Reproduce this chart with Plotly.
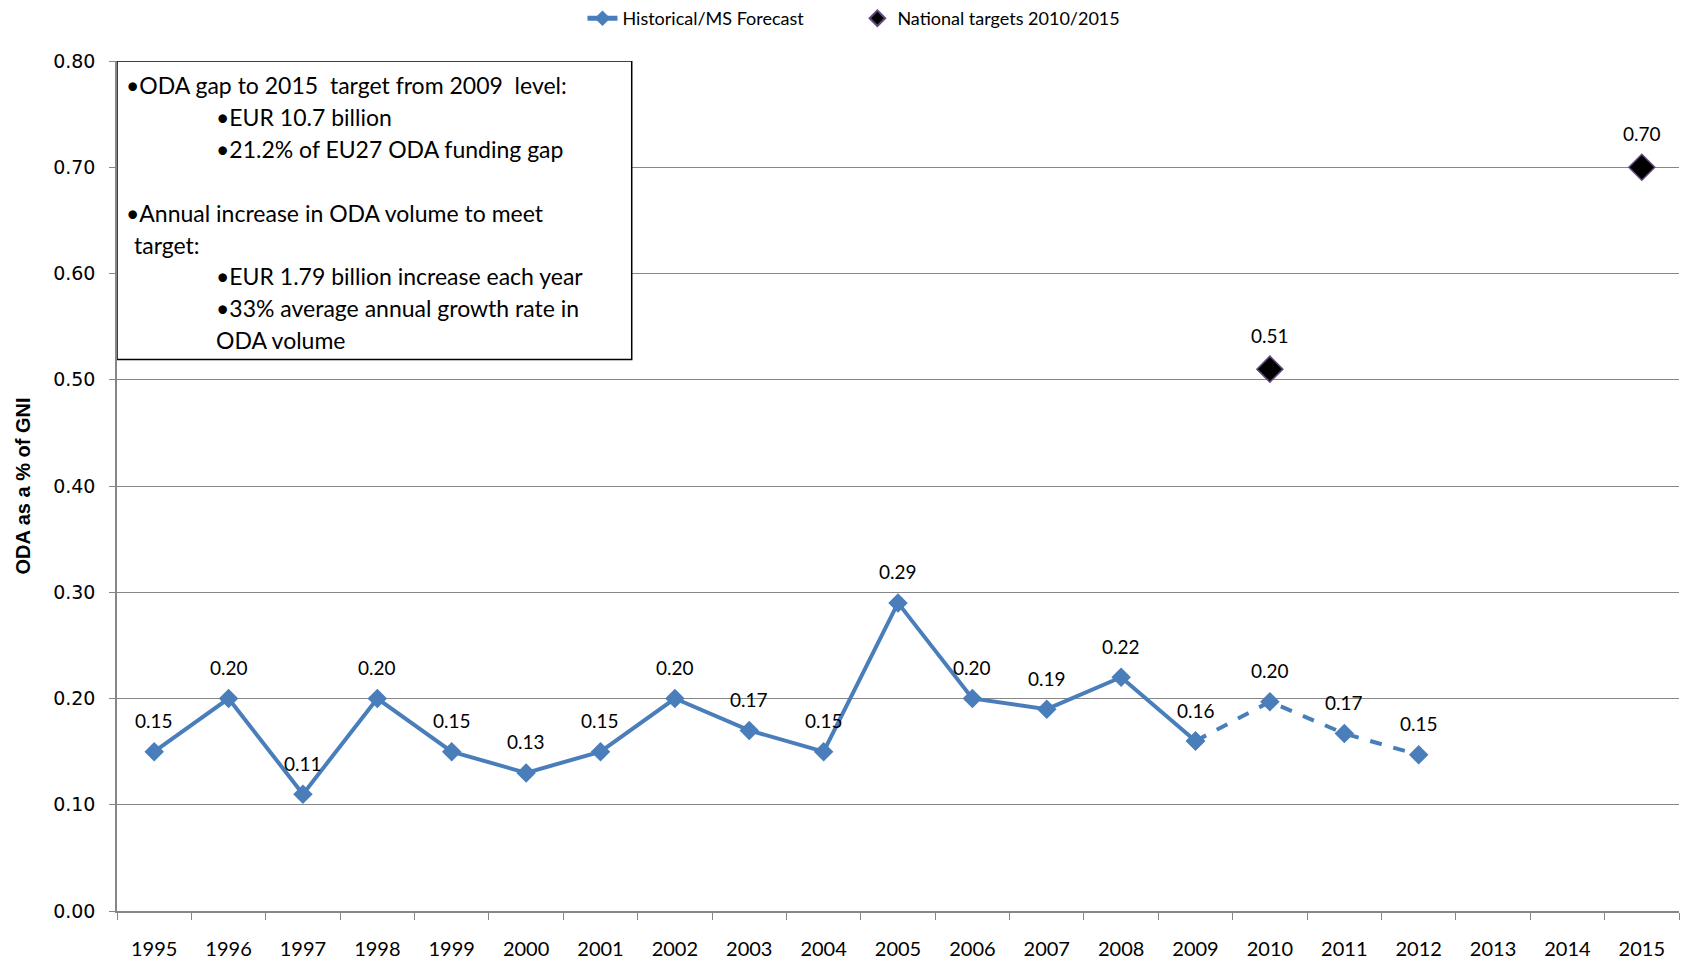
import plotly.graph_objects as go

years = [str(y) for y in range(1995, 2016)]

hist_years = [str(y) for y in range(1995, 2010)]
hist_vals = [0.15, 0.20, 0.11, 0.20, 0.15, 0.13, 0.15, 0.20, 0.17, 0.15,
             0.29, 0.20, 0.19, 0.22, 0.16]

fc_years = ["2009", "2010", "2011", "2012"]
fc_vals = [0.16, 0.197, 0.167, 0.147]

target_years = ["2010", "2015"]
target_vals = [0.51, 0.70]

y_ticks = [0.0, 0.1, 0.2, 0.3, 0.4, 0.5, 0.6, 0.7, 0.8]

box_lines = [
    ("•ODA gap to 2015  target from 2009  level:", 0),
    ("•EUR 10.7 billion", 1),
    ("•21.2% of EU27 ODA funding gap", 1),
    ("•Annual increase in ODA volume to meet", 0),
    ("target:", 2),
    ("•EUR 1.79 billion increase each year", 1),
    ("•33% average annual growth rate in", 1),
    ("ODA volume", 1),
]
box_line_y = [0.777, 0.747, 0.717, 0.657, 0.627, 0.598, 0.568, 0.537]

blue = "#4A7EBB"
font_main = "Lato, Liberation Sans, sans-serif"

fig = go.Figure()

fig.add_trace(go.Scatter(
    x=hist_years, y=hist_vals, mode="lines+markers",
    name="Historical/MS Forecast", legend="legend",
    line=dict(color=blue, width=4),
    marker=dict(symbol="diamond", size=15, color=blue),
))

fig.add_trace(go.Scatter(
    x=fc_years, y=fc_vals, mode="lines+markers",
    showlegend=False,
    line=dict(color=blue, width=4, dash="dash"),
    marker=dict(symbol="diamond", size=15, color=blue),
))

fig.add_trace(go.Scatter(
    x=target_years, y=target_vals, mode="markers",
    name="National targets 2010/2015", legend="legend2",
    marker=dict(symbol="diamond", size=20, color="#000000",
                line=dict(color="#604A7B", width=1.5)),
))

# data labels above the points (category axis -> use category index)
label_pts = list(zip(hist_years, hist_vals)) + list(zip(fc_years[1:], fc_vals[1:]))
for xx, yy in label_pts:
    fig.add_annotation(x=years.index(xx), y=yy, text=f"{yy:.2f}", showarrow=False,
                       yshift=31, font=dict(family=font_main, size=19, color="#000000"))
for xx, yy in zip(target_years, target_vals):
    fig.add_annotation(x=years.index(xx), y=yy, text=f"{yy:.2f}", showarrow=False,
                       yshift=34, font=dict(family=font_main, size=19, color="#000000"))

# text box
fig.add_shape(type="rect", xref="x", yref="y", x0=-0.5, x1=6.42, y0=0.519, y1=0.80,
              line=dict(color="#000000", width=1.5), fillcolor="white", layer="above")
indent_x = [-0.40, 0.80, -0.30]
for (txt, ind), yy in zip(box_lines, box_line_y):
    fig.add_annotation(x=indent_x[ind], y=yy, xref="x", yref="y", text=txt,
                       showarrow=False, xanchor="left", yanchor="middle",
                       font=dict(family=font_main, size=23, color="#000000"))

legend_style = dict(orientation="h", y=1.050, yref="paper", yanchor="middle",
                    xanchor="left", itemsizing="constant",
                    font=dict(family=font_main, size=18, color="#000000"))

fig.update_layout(
    width=1688, height=969,
    paper_bgcolor="white", plot_bgcolor="white",
    margin=dict(l=109, r=17, t=53, b=66, autoexpand=False),
    showlegend=True,
    legend=dict(x=0.298, **legend_style),
    legend2=dict(x=0.474, **legend_style),
)

fig.update_xaxes(
    type="category", categoryorder="array", categoryarray=years,
    range=[-0.5, 20.5], tickson="boundaries", ticks="outside", ticklen=7,
    tickcolor="#868686", showline=True, linecolor="#868686", linewidth=1.5,
    showgrid=False, tickfont=dict(family=font_main, size=20, color="#000000"),
    ticklabelstandoff=19, automargin=False,
)

fig.update_yaxes(
    range=[0, 0.8], tickvals=y_ticks, ticktext=[f"{v:.2f}" for v in y_ticks],
    ticks="outside", ticklen=6, tickcolor="#868686",
    showline=True, linecolor="#868686", linewidth=1.5,
    showgrid=True, gridcolor="#868686", gridwidth=1, zeroline=False,
    tickfont=dict(family="DejaVu Sans, Verdana, sans-serif", size=19, color="#000000"),
    ticklabelstandoff=10, automargin=False,
    title=dict(text="<b>ODA as a % of GNI</b>", standoff=17,
               font=dict(family="Liberation Sans Narrow, Arial Narrow, sans-serif",
                         size=20, color="#000000")),
)

fig.write_html("out.html")
